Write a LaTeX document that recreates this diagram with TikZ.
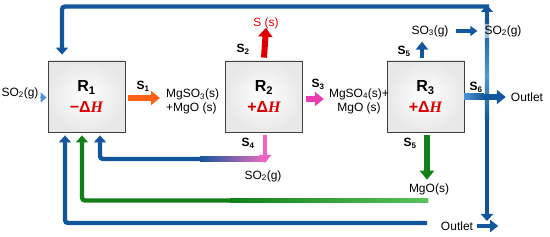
\documentclass[tikz,border=0pt]{standalone}
\usepackage{fontspec}
\setmainfont{Liberation Sans}
\newfontfamily\hserif{Liberation Serif}
\usetikzlibrary{arrows.meta, positioning, calc}
\definecolor{flowblue}{RGB}{18,86,158}
\definecolor{paleblue}{RGB}{80,150,210}
\definecolor{flowgreen}{RGB}{18,128,24}
\definecolor{lightgreen}{RGB}{90,195,90}
\definecolor{flowpink}{RGB}{238,110,190}
\definecolor{flowmag}{RGB}{236,60,180}
\definecolor{floworange}{RGB}{255,98,20}
\definecolor{flowred}{RGB}{222,0,0}
\tikzstyle{reactor} = [rectangle, minimum width=77pt, minimum height=71pt, align=center, draw=black!75, line width=0.8pt, inner color=white, outer color=black!9, font=\fontsize{16}{21}\selectfont\bfseries]
\tikzstyle{stream} = [line width=6pt, -{Triangle[length=9pt,width=14pt]}]
\tikzstyle{outflow} = [line width=4.5pt, -{Triangle[length=8pt,width=12pt]}]
\tikzstyle{recycle} = [line width=4.4pt, rounded corners=3pt, -{Triangle[length=7pt,width=12pt]}]
\tikzstyle{lbl} = [inner sep=1pt, font=\fontsize{12}{14}\selectfont]
\tikzstyle{slbl} = [inner sep=1pt, font=\fontsize{12}{14}\selectfont\bfseries]

\begin{document}
\begin{tikzpicture}[x=1pt, y=-1pt]
    \useasboundingbox (0,0) rectangle (550,237);

    % reactors
    \node (R1) [reactor] at (86.5,96.5) {R\textsubscript{1}\\{\color{flowred}−Δ{\hserif\itshape H}}};
    \node (R2) [reactor] at (264,96.5) {R\textsubscript{2}\\{\color{flowred}+Δ{\hserif\itshape H}}};
    \node (R3) [reactor] at (425.5,96.5) {R\textsubscript{3}\\{\color{flowred}+Δ{\hserif\itshape H}}};

    % species
    \node (so2in) [lbl] at (20,93) {SO\textsubscript{2}(g)};
    \node (mgso3) [lbl, align=left, anchor=west] at (165,101.5) {MgSO\textsubscript{3}(s)\\+MgO (s)};
    \node (mgso4) [lbl, align=center] at (359,101) {MgSO\textsubscript{4}(s)+\\MgO (s)};
    \node (sulfur) [lbl, text=flowred] at (266,23) {S (s)};
    \node (so2mid) [lbl] at (263,176) {SO\textsubscript{2}(g)};
    \node (so3) [lbl] at (430,31) {SO\textsubscript{3}(g)};
    \node (outletA) [lbl] at (527,97) {Outlet};
    \node (mgo) [lbl] at (429,189.5) {MgO(s)};
    \node (outletB) [lbl] at (457,226) {Outlet};

    % stream labels
    \node (s1) [slbl] at (143,86) {S\textsubscript{1}};
    \node (s2) [slbl] at (243,49) {S\textsubscript{2}};
    \node (s3) [slbl] at (318,84) {S\textsubscript{3}};
    \node (s4) [slbl] at (248,143) {S\textsubscript{4}};
    \node (s5a) [slbl] at (404,51) {S\textsubscript{5}};
    \node (s5b) [slbl] at (410,143) {S\textsubscript{5}};
    \node (s6) [slbl] at (476,87) {S\textsubscript{6}};

    \coordinate (split) at (487,97);
    \coordinate (s4end) at (265,159);
    \coordinate (mgoend) at (428,200.5);
    \coordinate (outend) at (427,223);

    % recycle lines
    \draw [recycle, flowblue] (489,6.5) -| ($(R1.north)+(-24.5,-6)$);
    \draw [recycle, flowblue] (s4end) -| ($(R1.south)+(13.5,3)$);
    \shade [left color=flowblue, right color=flowpink] (200,156.8) rectangle (266,161.2);
    \draw [recycle, flowgreen] (mgoend) -| ($(R1.south)+(-4.5,3)$);
    \shade [left color=flowgreen, right color=lightgreen] (230,198.3) rectangle (428,202.7);
    \draw [recycle, flowblue] (outend) -| ($(R1.south)+(-21.5,3)$);
    \draw [recycle, flowblue] (split) -- (487,5);
    \draw [recycle, flowblue] (split) -- (487,221);
    \shade [top color=flowblue, bottom color=paleblue] (484.8,20) rectangle (489.2,75);
    \shade [top color=paleblue, bottom color=flowblue] (484.8,75) rectangle (489.2,120);
    \node (so2top) [lbl, fill=white, fill opacity=0.55, text opacity=1] at (503,31) {SO\textsubscript{2}(g)};

    % streams
    \draw [line width=1.5pt, paleblue, -{Triangle[length=6pt,width=10pt]}] ($(so2in.east |- R1.west)+(0,1)$) -- ($(R1.west)+(-1,1)$);
    \draw [stream, floworange] ($(R1.east)+(3,1.5)$) -- ($(mgso3.west |- R1.east)+(-5,1.5)$);
    \draw [stream, flowred] ($(R2.north)+(0,-3)$) -- ($(sulfur.south)+(0,-2)$);
    \draw [stream, flowmag] ($(R2.east)+(3,2.5)$) -- ($(mgso4.west |- R2.east)+(-4,2.5)$);
    \draw [outflow, flowmag!80] ($(R2.south)+(1,3)$) -- (s4end |- 0,163);
    \draw [outflow, flowblue] ($(R3.north)+(-3.5,-3)$) -- ($(R3.north)+(-3.5,-19)$);
    \draw [line width=4pt, flowblue, -{Triangle[length=7pt,width=10pt]}] ($(so3.east)+(6,0)$) -- ($(so2top.west)+(-6,0)$);
    \draw [stream, flowgreen] ($(R3.south)+(1.5,3)$) -- ($(mgo.north)+(-2,-3)$);
    \draw [stream, flowblue] ($(R3.east)+(1,0.5)$) -- ($(outletA.west)+(-4,0)$);
    \shade [left color=paleblue, right color=flowblue] (464,94) rectangle (484,100);
    \draw [outflow, flowblue] ($(outletB.east)+(3,0)$) -- ++(21,0);
\end{tikzpicture}
\end{document}
